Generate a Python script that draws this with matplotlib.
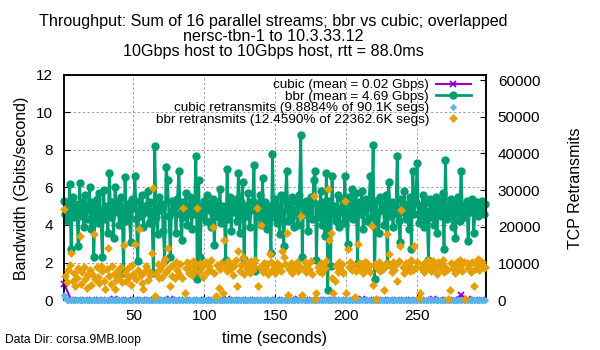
import numpy as np
import matplotlib
matplotlib.use("Agg")
import matplotlib.pyplot as plt

plt.rcParams['font.family'] = ['Liberation Sans', 'DejaVu Sans']

title_lines = [
    "Throughput: Sum of 16 parallel streams; bbr vs cubic; overlapped",
    "nersc-tbn-1 to 10.3.33.12",
    "10Gbps host to 10Gbps host, rtt = 88.0ms",
]
legend_labels = [
    "cubic (mean = 0.02 Gbps)",
    "bbr (mean = 4.69 Gbps)",
    "cubic retransmits (9.8884% of 90.1K segs)",
    "bbr retransmits (12.4590% of 22362.6K segs)",
]
x_label = "time (seconds)"
y_label = "Bandwidth (Gbits/second)"
y2_label = "TCP Retransmits"
footer = "Data Dir: corsa.9MB.loop"

x_ticks = [50, 100, 150, 200, 250]
y_ticks = [0, 2, 4, 6, 8, 10, 12]
y2_ticks = [0, 10000, 20000, 30000, 40000, 50000, 60000]

# bbr throughput, one sample per second starting at t = 1 s
bbr_gbps = [
    5.3, 4.6, 5.0, 4.2, 6.2, 2.7, 5.5, 4.4, 5.1, 4.8, 2.9, 6.25, 4.5, 5.2, 3.9, 5.6, 4.3, 4.9, 6.0, 3.8,
    5.2, 2.3, 4.8, 5.4, 4.1, 5.7, 4.6, 2.3, 5.85, 4.3, 5.0, 3.6, 6.8, 4.4, 5.2, 3.3, 6.0, 4.7, 5.3, 4.0,
    5.5, 4.8, 1.45, 6.55, 4.2, 5.1, 4.6, 3.1, 5.4, 4.9, 6.6, 4.3, 2.1, 5.3, 4.5, 5.6, 3.9, 5.0, 4.7, 5.8,
    4.1, 5.2, 4.6, 1.45, 8.2, 4.4, 3.5, 5.5, 4.8, 5.1, 3.7, 2.15, 7.1, 6.4, 4.5, 2.3, 5.3, 4.7, 5.0, 3.6,
    5.4, 6.9, 4.6, 3.2, 5.2, 4.4, 5.7, 4.0, 4.9, 5.5, 3.8, 5.1, 4.6, 7.7, 1.1, 6.4, 2.3, 5.0, 4.5, 5.3,
    4.2, 5.6, 4.8, 5.1, 3.9, 5.4, 2.95, 4.9, 5.2, 4.4, 5.9, 4.1, 5.0, 4.6, 2.15, 7.0, 4.3, 5.5, 3.7, 5.1,
    4.7, 5.4, 4.2, 6.8, 3.6, 5.2, 6.3, 2.2, 5.0, 4.5, 5.7, 3.9, 4.8, 5.3, 7.2, 1.55, 5.1, 4.4, 5.6, 4.0,
    6.5, 4.3, 5.2, 3.8, 5.0, 4.6, 2.5, 7.8, 4.4, 5.4, 4.1, 5.0, 3.5, 5.6, 4.7, 2.9, 5.3, 6.9, 4.2, 5.1,
    4.5, 5.5, 3.9, 4.8, 5.2, 4.0, 5.6, 8.8, 2.3, 5.0, 4.6, 5.3, 3.7, 4.9, 5.5, 4.3, 6.4, 6.9, 2.15, 5.1,
    4.4, 5.8, 4.0, 5.2, 3.4, 6.8, 0.55, 5.3, 1.8, 6.6, 4.6, 5.0, 4.2, 5.6, 3.9, 4.8, 5.4, 4.1, 6.6, 4.5,
    3.0, 5.5, 4.7, 5.9, 4.3, 5.1, 5.7, 2.0, 5.2, 4.6, 5.8, 3.8, 4.9, 5.4, 4.2, 5.0, 6.6, 4.4, 8.25, 1.1,
    5.3, 4.6, 3.6, 5.5, 4.8, 5.1, 4.0, 5.6, 1.9, 6.3, 4.5, 5.2, 3.9, 5.0, 4.6, 7.7, 4.2, 3.1, 5.4, 4.7,
    5.8, 4.3, 5.1, 3.8, 5.5, 2.7, 6.9, 4.6, 5.2, 7.3, 4.1, 5.0, 4.5, 5.6, 3.9, 5.2, 4.7, 2.15, 5.4, 4.4,
    5.1, 4.0, 5.5, 3.6, 4.8, 5.3, 4.5, 5.7, 2.7, 7.45, 4.3, 5.0, 4.6, 5.4, 3.9, 5.2, 3.3, 4.9, 5.5, 4.2,
    6.9, 4.6, 5.0, 4.4, 5.3, 3.15, 5.1, 4.7, 5.4, 3.6, 4.9, 5.2, 4.5, 5.0, 4.8, 5.3, 4.6, 5.1,
]

# bbr retransmits per second
bbr_retrans = [
    24900, 6500, 4800, 8200, 9600, 12800, 5200, 7300, 3900, 6100, 8800, 17400, 4500, 7600, 9100, 5600, 3400, 6900, 8300, 4200,
    7100, 18100, 5800, 8900, 6300, 4700, 9400, 7800, 5100, 3000, 8500, 14100, 6600, 4400, 9200, 7000, 3000, 5500, 8100, 6200,
    9000, 4900, 15100, 7500, 5300, 8700, 6400, 4100, 9500, 7200, 15400, 5700, 8300, 19400, 6800, 4600, 3000, 7900, 9300, 5400,
    8000, 6700, 12800, 30500, 1000, 7400, 9700, 5900, 8400, 6300, 9900, 11300, 7600, 14300, 8800, 3800, 6500, 9600, 5900, 10500,
    8200, 7100, 9800, 6000, 25000, 1800, 8600, 10300, 7400, 9100, 6800, 10700, 8300, 9500, 25000, 7700, 10100, 8900, 6400, 9800,
    10400, 7600, 9200, 8100, 10800, 20000, 7300, 1000, 9600, 3300, 8500, 10200, 2000, 16400, 9000, 7800, 10600, 8400, 9700, 6900,
    9300, 10900, 3800, 13300, 8000, 9500, 11800, 7200, 10300, 8700, 9900, 7500, 10600, 8200, 9400, 10800, 25000, 3800, 9000, 20500,
    7700, 10200, 8600, 9800, 7100, 12500, 10400, 8300, 9600, 7400, 10000, 8800, 9300, 7900, 13300, 11800, 9700, 18200, 1300, 8500,
    10100, 7300, 9500, 8100, 10500, 7800, 9200, 22800, 1300, 8700, 10300, 7600, 9900, 8400, 10600, 7200, 28400, 260, 1800, 9100,
    8000, 10200, 7500, 9400, 8600, 10700, 30200, 16400, 18200, 6100, 1800, 5100, 9300, 7700, 10400, 8300, 9800, 7400, 27100, 2000,
    13800, 9000, 10500, 8100, 9600, 800, 7900, 15300, 10100, 8400, 9700, 7300, 10300, 8800, 10200, 9400, 7600, 20200, 4100, 9900,
    260, 8600, 10500, 7800, 9200, 8400, 2600, 10100, 17900, 12500, 9300, 7600, 10400, 8200, 9700, 5100, 10600, 14600, 24600, 8900,
    7400, 10200, 8700, 9500, 7900, 10800, 8300, 14800, 9100, 10500, 500, 2000, 8600, 9900, 7700, 10300, 8900, 11000, 9400, 7800,
    10600, 8500, 9800, 7200, 10400, 8700, 9300, 10900, 7600, 9100, 8300, 260, 2600, 10200, 8800, 9600, 7400, 10500, 8200, 11000,
    9500, 7900, 10300, 260, 10200, 8600, 9900, 7700, 10400, 3800, 8400, 9700, 11200, 8100, 9500, 10300, 8700, 8900,
]

# cubic throughput, one sample every 5 s starting at t = 1 s
cubic_gbps = [
    0.87, 0.02, 0.01, 0.02, 0.02, 0.01, 0.02, 0.03, 0.02, 0.01, 0.02, 0.02, 0.01, 0.02, 0.02,
    0.03, 0.02, 0.01, 0.02, 0.02, 0.01, 0.02, 0.02, 0.03, 0.02, 0.01, 0.02, 0.02, 0.01, 0.02,
    0.02, 0.01, 0.02, 0.03, 0.02, 0.02, 0.01, 0.02, 0.02, 0.01, 0.02, 0.02, 0.03, 0.02, 0.01,
    0.02, 0.02, 0.01, 0.02, 0.02, 0.01, 0.02, 0.03, 0.02, 0.02, 0.01, 0.25, 0.08, 0.02, 0.02,
]

# cubic retransmits per second
cubic_retrans = [
    1300, 420, 60, 30, 0, 20, 40, 0, 10, 30, 0, 50, 20, 0, 30, 10, 0, 40, 20, 0,
    30, 0, 10, 50, 0, 20, 30, 0, 40, 10, 0, 20, 30, 0, 10, 40, 0, 20, 10, 30,
    0, 40, 20, 0, 10, 30, 0, 20, 50, 0, 10, 20, 0, 30, 40, 0, 20, 10, 0, 30,
    20, 0, 40, 10, 0, 30, 20, 0, 10, 40, 0, 30, 10, 0, 20, 50, 0, 10, 30, 0,
    40, 20, 0, 10, 30, 0, 20, 40, 0, 10, 30, 0, 20, 10, 0, 40, 30, 0, 20, 10,
    0, 30, 20, 0, 40, 10, 0, 20, 30, 0, 10, 50, 0, 20, 30, 0, 10, 40, 0, 20,
    30, 0, 10, 20, 0, 40, 30, 0, 10, 20, 0, 30, 40, 0, 20, 10, 0, 30, 20, 0,
    10, 40, 0, 20, 30, 0, 10, 20, 0, 50, 30, 0, 20, 10, 0, 40, 20, 0, 30, 10,
    0, 20, 40, 0, 10, 30, 0, 20, 10, 0, 30, 40, 0, 20, 10, 0, 30, 20, 0, 40,
    10, 0, 30, 20, 0, 10, 40, 0, 20, 30, 0, 10, 20, 0, 40, 30, 0, 10, 20, 0,
    30, 10, 0, 40, 20, 0, 30, 10, 0, 20, 40, 0, 10, 30, 0, 20, 10, 0, 50, 20,
    0, 30, 10, 0, 40, 20, 0, 10, 30, 0, 20, 40, 0, 10, 20, 0, 30, 10, 0, 40,
    20, 0, 10, 30, 0, 40, 20, 0, 10, 30, 0, 20, 10, 0, 40, 30, 0, 20, 10, 0,
    30, 20, 0, 10, 40, 0, 20, 30, 0, 10, 20, 0, 40, 10, 0, 30, 20, 0, 10, 30,
    0, 20, 40, 0, 10, 30, 0, 20, 10, 0, 30, 20, 0, 40, 10, 0, 20, 30,
]

C_CUBIC = '#9400d3'
C_BBR = '#009e73'
C_CUBIC_R = '#56b4e9'
C_BBR_R = '#e69f00'

bbr_t = np.arange(1, len(bbr_gbps) + 1)
bbr_r_t = np.arange(1, len(bbr_retrans) + 1)
cubic_r_t = np.arange(1, len(cubic_retrans) + 1)
cubic_t = 1 + 5 * np.arange(len(cubic_gbps))

W, H = 600, 350
fig = plt.figure(figsize=(6, 3.5), dpi=100)
L, R, T, B = 64, 486, 75, 300
ax = fig.add_axes([L / W, (H - B) / H, (R - L) / W, (B - T) / H])
ax2 = ax.twinx()

ax.set_xlim(1, 298.6)
ax.set_ylim(0, 12)
ax2.set_ylim(0, 61400)

ax.set_xticks(x_ticks)
ax.set_xticklabels([str(v) for v in x_ticks])
ax.set_yticks(y_ticks)
ax.set_yticklabels([str(v) for v in y_ticks])
ax2.set_yticks(y2_ticks)
ax2.set_yticklabels([str(v) for v in y2_ticks])

ax.grid(True, color='#a0a0a0', linestyle=(0, (2.2, 2.2)), linewidth=0.75)
ax.set_axisbelow(True)

l1, = ax.plot(cubic_t, cubic_gbps, color=C_CUBIC, lw=1.5, marker='x', ms=5, mew=1.3,
              clip_on=False, zorder=3)
l2, = ax.plot(bbr_t, bbr_gbps, color=C_BBR, lw=2.0, marker='o', ms=6.0, mew=0,
              clip_on=False, zorder=4)
l3, = ax2.plot(cubic_r_t, cubic_retrans, ls='none', marker='D', color=C_CUBIC_R, ms=3.3,
               mew=0.4, clip_on=False, zorder=3)
l4, = ax2.plot(bbr_r_t, bbr_retrans, ls='none', marker='D', color=C_BBR_R, ms=3.8,
               mew=0.4, clip_on=False, zorder=4)

for a in (ax, ax2):
    for s in a.spines.values():
        s.set_linewidth(1.1)
        s.set_color('black')

ax.tick_params(axis='x', direction='in', length=4, width=0.8, top=False, bottom=True,
               labelsize=11, pad=6.5)
ax.tick_params(axis='y', direction='in', length=4, width=0.8, left=True, right=False,
               labelsize=11, pad=8)
ax2.tick_params(axis='y', direction='in', length=4, width=0.8, right=True,
                labelsize=11, pad=8.5)

leg = ax2.legend([l1, l2, l3, l4], legend_labels, loc='upper right',
                 bbox_to_anchor=((471 - L) / (R - L), (B - 79) / (B - T)),
                 frameon=False, markerfirst=False, fontsize=9.7, labelspacing=-0.07,
                 handlelength=2.6, handletextpad=0.5, borderpad=0, borderaxespad=0,
                 numpoints=1)

fig.text(273 / W, 1 - 36.5 / H, "\n".join(title_lines), ha='center', va='center',
         fontsize=11.6, linespacing=1.0)
fig.text(22 / W, 1 - 188 / H, y_label, rotation=90, ha='center', va='center', fontsize=11.5)
fig.text(575 / W, 1 - 188 / H, y2_label, rotation=90, ha='center', va='center', fontsize=11.5)
fig.text(275 / W, 1 - 338 / H, x_label, ha='center', va='center', fontsize=11.5)
fig.text(5 / W, 1 - 340 / H, footer, ha='left', va='center', fontsize=8.7)

fig.savefig('out.png', dpi=100)
